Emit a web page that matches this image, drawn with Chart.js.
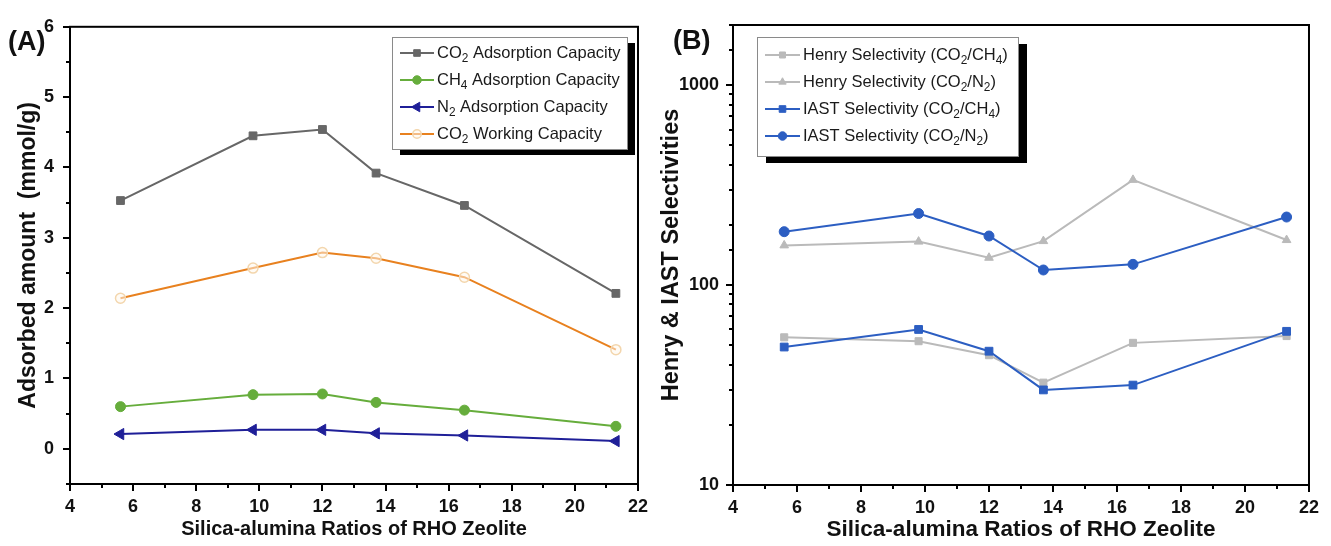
<!DOCTYPE html>
<html>
<head>
<meta charset="utf-8">
<script src="https://cdn.jsdelivr.net/npm/chart.js@4.4.1/dist/chart.umd.min.js"></script>
<style>
  html, body { margin: 0; padding: 0; background: #fff; }
  #wrap { position: relative; width: 1331px; height: 546px; }
  #chart_a { position: absolute; left: 0; top: 0; }
  #chart_b { position: absolute; left: 660px; top: 0; }
</style>
</head>
<body>
<div id="wrap">
  <canvas id="chart_a" width="660" height="546"></canvas>
  <canvas id="chart_b" width="671" height="546"></canvas>
</div>
<script>
var FONT = "'Liberation Sans', Arial, sans-serif";

// Si/Al ratio of the RHO samples (x axis, both panels)
var si_al_ratio = [5.6, 9.8, 12, 13.7, 16.5, 21.3];

// panel A, mmol/g
var co2_adsorption = [3.53, 4.45, 4.54, 3.92, 3.46, 2.21];
var ch4_adsorption = [0.60, 0.77, 0.78, 0.66, 0.55, 0.32];
var n2_adsorption = [0.21, 0.27, 0.27, 0.22, 0.19, 0.11];
var co2_working = [2.14, 2.57, 2.79, 2.71, 2.44, 1.41];
var labels_a = ["CO_2 Adsorption Capacity", "CH_4 Adsorption Capacity", "N_2 Adsorption Capacity", "CO_2 Working Capacity"];

// panel B, selectivities (log axis)
var henry_co2_ch4 = [54.8, 52.4, 44.6, 32.5, 51.4, 55.6];
var henry_co2_n2 = [158, 165, 137, 166, 336, 168];
var iast_co2_ch4 = [49, 60, 46.7, 29.9, 31.6, 58.7];
var iast_co2_n2 = [185, 228, 176, 119, 127, 219];
var labels_b = ["Henry Selectivity (CO_2/CH_4)", "Henry Selectivity (CO_2/N_2)", "IAST Selectivity (CO_2/CH_4)", "IAST Selectivity (CO_2/N_2)"];

var x_ticks_labelled = [4, 6, 8, 10, 12, 14, 16, 18, 20, 22];
var log_ticks_labelled = [10, 100, 1000];

var to_points = function(values) {
  return si_al_ratio.map(function(x, i) { return {x: x, y: values[i]}; });
};

// text with "_2" style subscripts
var draw_rich_text = function(ctx, text, x, y, size, weight) {
  let parts = text.split(/_(\d)/);
  for (let i = 0; i < parts.length; i++) {
    let sub = i % 2 == 1;
    ctx.font = weight + " " + (sub ? size * 0.72 : size) + "px " + FONT;
    ctx.fillText(parts[i], x, sub ? y + size * 0.32 : y);
    x += ctx.measureText(parts[i]).width;
  }
};

var make_line = function(label, values, color, point_style, extra) {
  let line = {
    label: label,
    data: to_points(values),
    borderColor: color,
    backgroundColor: color,
    borderWidth: 2,
    tension: 0,
    fill: false,
    pointStyle: point_style,
    pointRadius: 5,
    pointBackgroundColor: color,
    pointBorderColor: color,
    pointBorderWidth: 1,
    pointRotation: 0,
  };
  return Object.assign(line, extra || {});
};

// frame, outside tick marks, panel letter and shadowed legend
var panel_plugin = {
  id: "panel",
  afterDraw: function(chart, args, opts) {
    let ctx = chart.ctx;
    let area = chart.chartArea;
    ctx.save();
    ctx.strokeStyle = "#000";
    ctx.lineWidth = 2;
    ctx.strokeRect(area.left, area.top, area.right - area.left, area.bottom - area.top);

    let xs = chart.scales.x;
    xs.ticks.forEach(function(t) {
      let px = Math.round(xs.getPixelForValue(t.value));
      let len = t.label !== "" ? 7 : 4;
      ctx.beginPath();
      ctx.moveTo(px, area.bottom);
      ctx.lineTo(px, area.bottom + len);
      ctx.stroke();
    });
    let ys = chart.scales.y;
    ys.ticks.forEach(function(t) {
      let py = Math.round(ys.getPixelForValue(t.value));
      let len = t.label !== "" ? 7 : 4;
      ctx.beginPath();
      ctx.moveTo(area.left, py);
      ctx.lineTo(area.left - len, py);
      ctx.stroke();
    });

    ctx.fillStyle = "#111";
    ctx.textBaseline = "middle";
    ctx.textAlign = "left";
    ctx.font = "bold 27px " + FONT;
    ctx.fillText(opts.letter, opts.letter_x, opts.letter_y);

    let lg = opts.legend;
    ctx.fillStyle = "#000";
    ctx.fillRect(lg.x + lg.sx, lg.y + lg.sy, lg.w, lg.h);
    ctx.fillStyle = "#fff";
    ctx.fillRect(lg.x, lg.y, lg.w, lg.h);
    ctx.strokeStyle = "#8a8a8a";
    ctx.lineWidth = 1;
    ctx.strokeRect(lg.x + 0.5, lg.y + 0.5, lg.w, lg.h);

    chart.data.datasets.forEach(function(ds, i) {
      let cy = lg.row_y + i * lg.row_dy;
      ctx.strokeStyle = ds.borderColor;
      ctx.lineWidth = ds.borderWidth;
      ctx.beginPath();
      ctx.moveTo(lg.line_x0, cy);
      ctx.lineTo(lg.line_x1, cy);
      ctx.stroke();
      ctx.fillStyle = ds.pointBackgroundColor;
      ctx.strokeStyle = ds.pointBorderColor;
      ctx.lineWidth = ds.pointBorderWidth;
      Chart.helpers.drawPoint(ctx, {
        pointStyle: ds.pointStyle,
        radius: ds.pointRadius * 0.85,
        rotation: ds.pointRotation,
        borderWidth: ds.pointBorderWidth
      }, (lg.line_x0 + lg.line_x1) / 2, cy);
      ctx.fillStyle = "#1a1a1a";
      ctx.textBaseline = "middle";
      draw_rich_text(ctx, ds.label, lg.text_x, cy, lg.size, "normal");
    });
    ctx.restore();
  }
};

var tick_font = {family: FONT, size: 18, weight: "bold"};

var make_options = function(cfg) {
  return {
    responsive: false,
    animation: false,
    devicePixelRatio: 1,
    layout: {padding: {top: cfg.top, right: cfg.right, left: 0, bottom: 0}},
    plugins: {
      legend: {display: false},
      tooltip: {enabled: false},
      panel: cfg.panel
    },
    scales: {
      x: {
        type: "linear",
        min: 4,
        max: 22,
        afterFit: function(scale) { scale.height = cfg.x_height; },
        grid: {display: false, drawTicks: false},
        border: {display: false},
        ticks: {
          stepSize: 1,
          autoSkip: false,
          maxRotation: 0,
          padding: 12,
          color: "#111",
          font: tick_font,
          callback: function(v) { return x_ticks_labelled.includes(v) ? String(v) : ""; }
        },
        title: {
          display: true,
          text: "Silica-alumina Ratios of RHO Zeolite",
          color: "#111",
          font: {family: FONT, size: cfg.x_title_size, weight: "bold", lineHeight: 1},
          padding: {top: 0, bottom: cfg.x_title_pad}
        }
      },
      y: Object.assign({
        afterFit: function(scale) { scale.width = cfg.y_width; },
        grid: {display: false, drawTicks: false},
        border: {display: false},
        title: {
          display: true,
          text: cfg.y_title,
          color: "#111",
          font: {family: FONT, size: cfg.y_title_size, weight: "bold", lineHeight: 1},
          padding: {top: cfg.y_title_pad, bottom: 0}
        }
      }, cfg.y)
    }
  };
};

var chart_a = new Chart("chart_a", {
  type: "line",
  data: {
    datasets: [
      make_line(labels_a[0], co2_adsorption, "#676767", "rect", {pointRadius: 5.5}),
      make_line(labels_a[1], ch4_adsorption, "#66ad3c", "circle", {pointRadius: 5}),
      make_line(labels_a[2], n2_adsorption, "#1f1f98", "triangle", {pointRadius: 6.5, pointRotation: -90}),
      make_line(labels_a[3], co2_working, "#e8811f", "circle", {pointRadius: 5, pointBackgroundColor: "rgba(255,248,236,0.5)", pointBorderColor: "#f3d6ad", pointBorderWidth: 1.5})
    ]
  },
  options: make_options({
    top: 21, right: 19, x_height: 62, y_width: 70,
    x_title_size: 20, x_title_pad: 7,
    y_title: "Adsorbed amount  (mmol/g)", y_title_size: 23, y_title_pad: 17,
    y: {
      type: "linear",
      min: -0.5,
      max: 6,
      ticks: {
        stepSize: 0.5,
        autoSkip: false,
        padding: 16,
        color: "#111",
        font: tick_font,
        callback: function(v) { return Number.isInteger(v) ? String(v) : ""; }
      }
    },
    panel: {
      letter: "(A)", letter_x: 8, letter_y: 43,
      legend: {x: 392, y: 37, w: 235, h: 112, sx: 8, sy: 6, row_y: 53, row_dy: 27,
               line_x0: 400, line_x1: 434, text_x: 437, size: 16.5}
    }
  }),
  plugins: [panel_plugin]
});

var chart_b = new Chart("chart_b", {
  type: "line",
  data: {
    datasets: [
      make_line(labels_b[0], henry_co2_ch4, "#bababa", "rect", {pointRadius: 5, order: 2}),
      make_line(labels_b[1], henry_co2_n2, "#bababa", "triangle", {pointRadius: 5, order: 2}),
      make_line(labels_b[2], iast_co2_ch4, "#2c5ec2", "rect", {pointRadius: 5.5, order: 1}),
      make_line(labels_b[3], iast_co2_n2, "#2c5ec2", "circle", {pointRadius: 5, order: 1})
    ]
  },
  options: make_options({
    top: 25, right: 9, x_height: 61, y_width: 73,
    x_title_size: 22.5, x_title_pad: 5,
    y_title: "Henry & IAST Selectivities", y_title_size: 23.5, y_title_pad: 0,
    y: {
      type: "logarithmic",
      min: 10,
      max: 2000,
      ticks: {
        autoSkip: false,
        padding: 14,
        color: "#111",
        font: tick_font,
        callback: function(v) { return log_ticks_labelled.includes(v) ? String(v) : ""; }
      }
    },
    panel: {
      letter: "(B)", letter_x: 13, letter_y: 42,
      legend: {x: 97, y: 37, w: 261, h: 119, sx: 9, sy: 7, row_y: 55, row_dy: 27,
               line_x0: 105, line_x1: 140, text_x: 143, size: 16.5}
    }
  }),
  plugins: [panel_plugin]
});
</script>
</body>
</html>
